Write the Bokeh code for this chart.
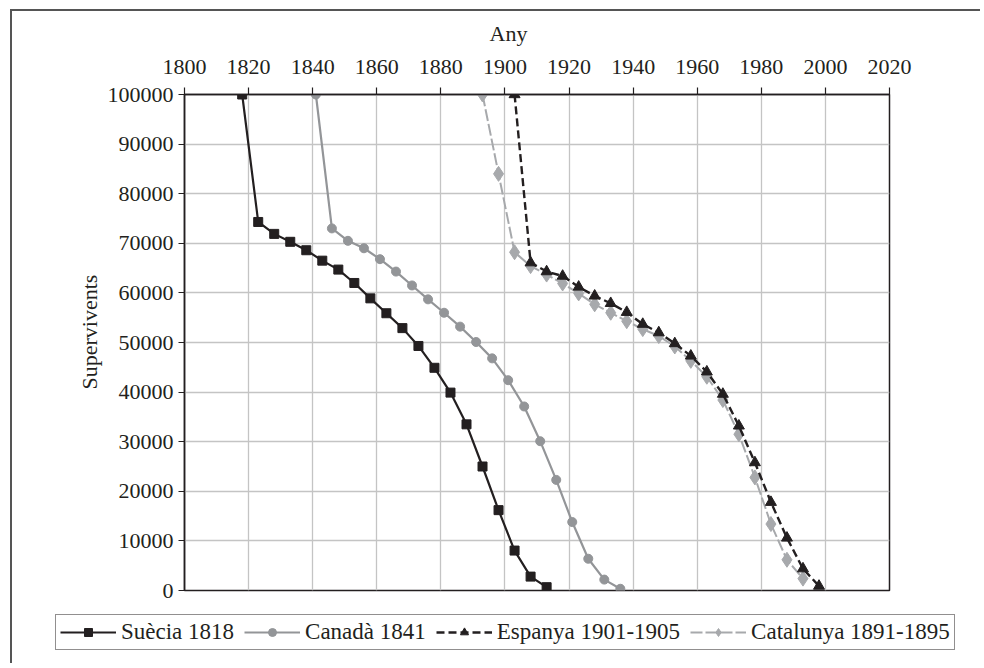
from bokeh.plotting import figure
from bokeh.layouts import column
from bokeh.models import (FixedTicker, BasicTickFormatter, Legend, LegendItem,
                          Title, Label, Range1d)
from bokeh.embed import file_html
from bokeh.resources import INLINE

# ---------------- data ----------------
suecia_years = [1818, 1823, 1828, 1833, 1838, 1843, 1848, 1853, 1858, 1863,
                1868, 1873, 1878, 1883, 1888, 1893, 1898, 1903, 1908, 1913]
suecia_vals = [100000, 74300, 71900, 70300, 68600, 66500, 64700, 62000, 58900, 55900,
               52900, 49300, 44900, 39900, 33500, 25000, 16200, 8050, 2800, 670]

canada_years = [1841, 1846, 1851, 1856, 1861, 1866, 1871, 1876, 1881, 1886,
                1891, 1896, 1901, 1906, 1911, 1916, 1921, 1926, 1931, 1936]
canada_vals = [100000, 73000, 70500, 69000, 66800, 64300, 61500, 58700, 56000, 53200,
               50100, 46800, 42400, 37100, 30100, 22300, 13800, 6400, 2200, 350]

espanya_years = [1903, 1908, 1913, 1918, 1923, 1928, 1933, 1938, 1943, 1948,
                 1953, 1958, 1963, 1968, 1973, 1978, 1983, 1988, 1993, 1998]
espanya_vals = [100000, 66100, 64300, 63400, 61200, 59400, 57900, 56100, 53700, 52000,
                49800, 47300, 44100, 39600, 33200, 25800, 17800, 10600, 4400, 900]

catalunya_years = [1893, 1898, 1903, 1908, 1913, 1918, 1923, 1928, 1933, 1938,
                   1943, 1948, 1953, 1958, 1963, 1968, 1973, 1978, 1983, 1988, 1993]
catalunya_vals = [100000, 84000, 68200, 65400, 63700, 61900, 59900, 57700, 56000, 54300,
                  52700, 51300, 49200, 46300, 43100, 38400, 31500, 22800, 13400, 6200, 2400]

x_ticks = [1800, 1820, 1840, 1860, 1880, 1900, 1920, 1940, 1960, 1980, 2000, 2020]
y_ticks = [0, 10000, 20000, 30000, 40000, 50000, 60000, 70000, 80000, 90000, 100000]

labels = ["Suècia 1818", "Canadà 1841", "Espanya 1901-1905", "Catalunya 1891-1895"]
x_title = "Any"
y_title = "Supervivents"

series = [
    ("sue", suecia_years, suecia_vals),
    ("can", canada_years, canada_vals),
    ("esp", espanya_years, espanya_vals),
    ("cat", catalunya_years, catalunya_vals),
]

# ---------------- style ----------------
FONT = "Liberation Serif"
FS = "22px"
INK = "#231f20"
C_SUE = "#231f20"
C_CAN = "#939598"
C_ESP = "#231f20"
C_CAT = "#a7a9ac"
W = 970

STYLES = {
    "sue_line": dict(line_color=C_SUE, line_width=2.2),
    "sue_mark": dict(marker="square", size=9, fill_color=C_SUE, line_color=C_SUE),
    "can_line": dict(line_color=C_CAN, line_width=2.2),
    "can_mark": dict(marker="circle", size=9, fill_color=C_CAN, line_color=C_CAN),
    "esp_line": dict(line_color=C_ESP, line_width=2.4, line_dash="8 4"),
    "esp_mark": dict(marker="triangle", size=11, fill_color=C_ESP, line_color=C_ESP),
    "cat_line": dict(line_color=C_CAT, line_width=2.0, line_dash="12 3"),
    "cat_mark": dict(marker="diamond", size=15, fill_color=C_CAT, line_color=C_CAT),
}


def bare_figure(height):
    f = figure(width=W, height=height, min_border=0,
               x_range=Range1d(0, 1), y_range=Range1d(0, 1),
               x_axis_location=None, y_axis_location=None,
               output_backend="svg", toolbar_location=None)
    f.frame_align = False
    f.outline_line_color = None
    f.grid.visible = False
    f.background_fill_color = "white"
    f.border_fill_color = "white"
    return f


# ---------- top strip: x-axis name ----------
p_top = bare_figure(39)
p_top.add_layout(Label(x=496, y=17, x_units="screen", y_units="screen",
                       text=x_title, text_align="center", text_baseline="middle",
                       text_font=FONT, text_font_size=FS, text_color=INK))

# ---------- main chart ----------
p = figure(width=W, height=555,
           min_border_left=172, min_border_right=W - 172 - 705,
           min_border_top=44, min_border_bottom=15,
           x_range=Range1d(1800, 2020), y_range=Range1d(0, 100000),
           x_axis_location="above",
           output_backend="svg", toolbar_location=None)
p.frame_align = False
p.background_fill_color = "white"
p.border_fill_color = "white"
p.outline_line_color = INK
p.outline_line_width = 1.5
p.outline_line_alpha = 1.0

p.add_layout(Title(text=y_title, align="left", offset=201, standoff=5,
                   text_font=FONT, text_font_size=FS, text_font_style="normal",
                   text_color=INK), "left")

xa = p.xaxis[0]
xa.ticker = FixedTicker(ticks=x_ticks)
xa.formatter = BasicTickFormatter(use_scientific=False)
ya = p.yaxis[0]
ya.ticker = FixedTicker(ticks=y_ticks)
ya.formatter = BasicTickFormatter(use_scientific=False)
for ax in (xa, ya):
    ax.major_label_text_font = FONT
    ax.major_label_text_font_size = FS
    ax.major_label_text_color = INK
    ax.axis_line_color = INK
    ax.axis_line_width = 1.5
    ax.major_tick_line_color = INK
    ax.major_tick_line_width = 1.2
    ax.major_tick_in = 0
    ax.minor_tick_in = 0
    ax.minor_tick_out = 0
xa.major_tick_out = 7
xa.major_label_standoff = 14
ya.major_tick_out = 6
ya.major_label_standoff = 5

p.xgrid.ticker = FixedTicker(ticks=x_ticks)
p.ygrid.ticker = FixedTicker(ticks=y_ticks)
for g in (p.xgrid, p.ygrid):
    g.grid_line_color = "#c4c4c4"
    g.grid_line_width = 1.3

# draw order: Catalunya under Espanya
for key, xs, ys in [series[0], series[1], series[3], series[2]]:
    p.line(xs, ys, **STYLES[key + "_line"])
    p.scatter(xs, ys, **STYLES[key + "_mark"])

# ---------- legend strip ----------
# (same series drawn into a strip whose ranges keep them out of view;
#  they only provide the legend swatches)
p_leg = bare_figure(60)
items = []
for (key, xs, ys), lab in zip(series, labels):
    rl = p_leg.line(xs, ys, **STYLES[key + "_line"])
    rm = p_leg.scatter(xs, ys, **STYLES[key + "_mark"])
    items.append(LegendItem(label=lab, renderers=[rl, rm]))
legend = Legend(items=items, orientation="horizontal", location=(43, 15))
legend.label_text_font = FONT
legend.label_text_font_size = "23px"
legend.label_text_color = INK
legend.glyph_width = 56
legend.glyph_height = 20
legend.label_height = 20
legend.label_standoff = 5
legend.spacing = 10
legend.padding = 4
legend.margin = 0
legend.border_line_color = INK
legend.border_line_width = 1.2
legend.background_fill_color = "white"
legend.background_fill_alpha = 1.0
p_leg.add_layout(legend, "center")

layout = column(p_top, p, p_leg, spacing=0)
layout.margin = (11, 0, 0, 12)
layout.styles = {"box-shadow": "-2px -2px 0 0 #555555", "background": "white"}

open("out.html", "w").write(file_html(layout, INLINE))
